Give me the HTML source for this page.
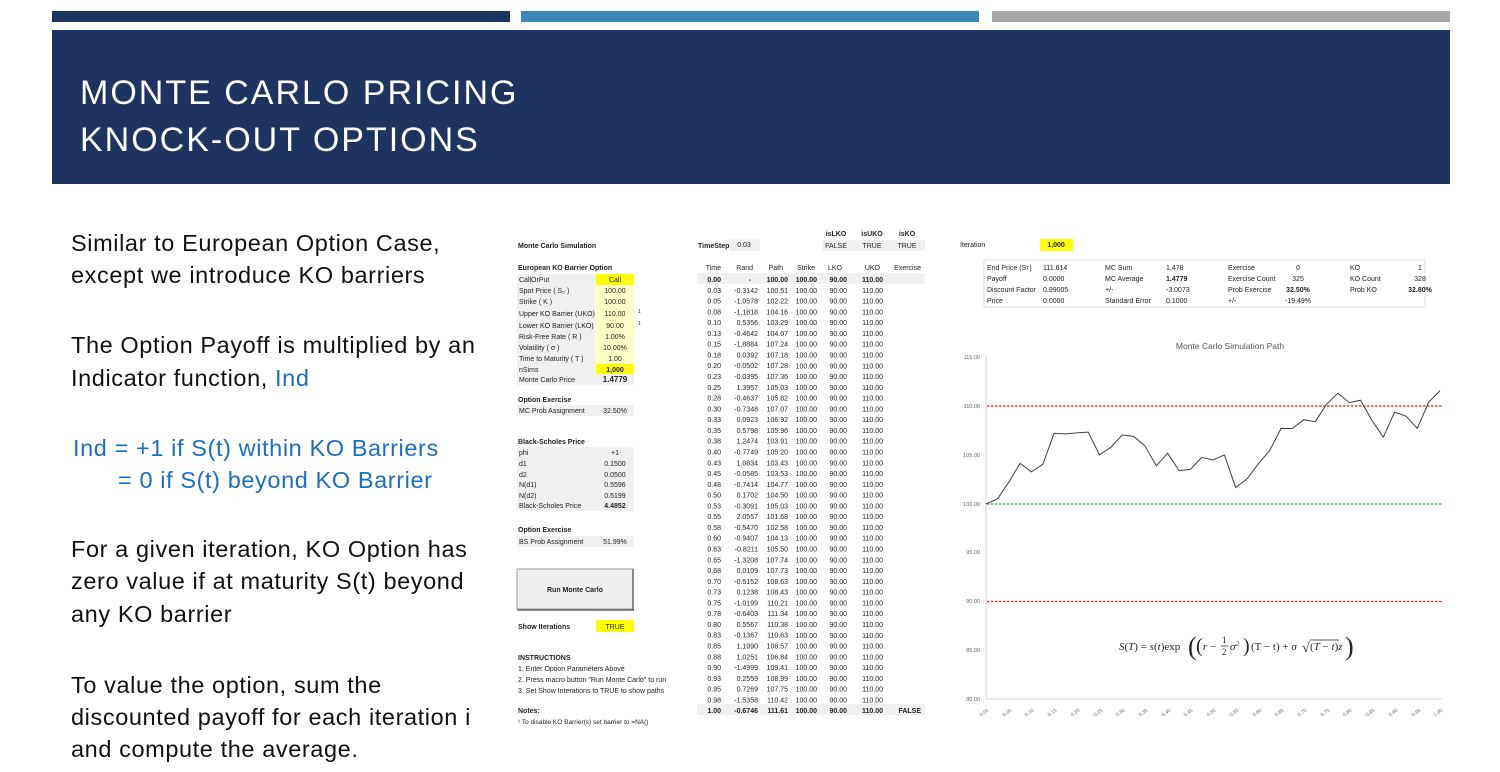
<!DOCTYPE html>
<html><head><meta charset="utf-8"><style>
html,body{margin:0;padding:0;background:#fff;width:1500px;height:772px;overflow:hidden}
svg{display:block;font-family:"Liberation Sans",sans-serif}
</style></head><body>
<svg width="1500" height="772" viewBox="0 0 1500 772" xmlns="http://www.w3.org/2000/svg">
<!-- top bars -->
<rect x="52" y="11" width="458" height="11" fill="#1d3461"/>
<rect x="521" y="11" width="458" height="11" fill="#3e88b8"/>
<rect x="992" y="11" width="458" height="11" fill="#a6a6a6"/>
<rect x="52" y="30" width="1398" height="154" fill="#1d3461"/>
<text x="80" y="104" fill="#fff" font-size="34" letter-spacing="2">MONTE CARLO PRICING</text>
<text x="80" y="151" fill="#fff" font-size="34" letter-spacing="2">KNOCK-OUT OPTIONS</text>

<!-- left text -->
<g font-size="23.5" fill="#111" letter-spacing="0.6">
<text x="71" y="251">Similar to European Option Case,</text>
<text x="71" y="283">except we introduce KO barriers</text>
<text x="71" y="353">The Option Payoff is multiplied by an</text>
<text x="71" y="386">Indicator function, <tspan fill="#1a6fc2">Ind</tspan></text>
<text x="73" y="456" fill="#1a6fc2">Ind = +1 if S(t) within KO Barriers</text>
<text x="118" y="488" fill="#1a6fc2">= 0   if S(t) beyond KO Barrier</text>
<text x="71" y="557">For a given iteration, KO Option has</text>
<text x="71" y="589">zero value if at maturity S(t) beyond</text>
<text x="71" y="622">any KO barrier</text>
<text x="71" y="693">To value the option, sum the</text>
<text x="71" y="725">discounted payoff for each iteration i</text>
<text x="71" y="757">and compute the average.</text>
</g>

<!-- left spreadsheet panel -->
<g font-size="7" fill="#222">
<text x="518" y="248" font-weight="bold">Monte Carlo Simulation</text>
<text x="518" y="270" font-weight="bold">European KO Barrier Option</text>
<rect x="517" y="274" width="78" height="111" fill="#f0f0f0"/>
<rect x="595" y="274" width="39" height="100" fill="#ffffc8"/>
<rect x="596" y="274" width="38" height="11" fill="#ffff00"/>
<rect x="596" y="364" width="38" height="11" fill="#ffff00"/>
<rect x="595" y="374" width="39" height="11" fill="#f0f0f0"/>
<text x="519" y="282">CallOrPut</text><text x="615" y="282" text-anchor="middle">Call</text>
<text x="519" y="293">Spot Price ( S₀ )</text><text x="615" y="293" text-anchor="middle">100.00</text>
<text x="519" y="304">Strike ( K )</text><text x="615" y="304" text-anchor="middle">100.00</text>
<text x="519" y="316">Upper KO Barrier (UKO)</text><text x="615" y="316" text-anchor="middle">110.00</text><text x="638" y="313" font-size="5">1</text>
<text x="519" y="328">Lower KO Barrier (LKO)</text><text x="615" y="328" text-anchor="middle">90.00</text><text x="638" y="325" font-size="5">1</text>
<text x="519" y="339">Risk-Free Rate ( R )</text><text x="615" y="339" text-anchor="middle">1.00%</text>
<text x="519" y="350">Volatility ( σ )</text><text x="615" y="350" text-anchor="middle">10.00%</text>
<text x="519" y="361">Time to Maturity ( T )</text><text x="615" y="361" text-anchor="middle">1.00</text>
<text x="519" y="372">nSims</text><text x="615" y="372" text-anchor="middle" font-weight="bold">1,000</text>
<text x="519" y="382">Monte Carlo Price</text><text x="615" y="382" text-anchor="middle" font-weight="bold" font-size="8">1.4779</text>
<text x="518" y="402" font-weight="bold">Option Exercise</text>
<rect x="517" y="405" width="117" height="11" fill="#f0f0f0"/>
<text x="519" y="413">MC Prob Assignment</text><text x="615" y="413" text-anchor="middle">32.50%</text>
<text x="518" y="444" font-weight="bold">Black-Scholes Price</text>
<rect x="517" y="447" width="117" height="64" fill="#f0f0f0"/>
<text x="519" y="455">phi</text><text x="615" y="455" text-anchor="middle">+1</text>
<text x="519" y="466">d1</text><text x="615" y="466" text-anchor="middle">0.1500</text>
<text x="519" y="477">d2</text><text x="615" y="477" text-anchor="middle">0.0500</text>
<text x="519" y="487">N(d1)</text><text x="615" y="487" text-anchor="middle">0.5596</text>
<text x="519" y="498">N(d2)</text><text x="615" y="498" text-anchor="middle">0.5199</text>
<text x="519" y="508">Black-Scholes Price</text><text x="615" y="508" text-anchor="middle" font-weight="bold">4.4852</text>
<text x="518" y="532" font-weight="bold">Option Exercise</text>
<rect x="517" y="536" width="117" height="11" fill="#f0f0f0"/>
<text x="519" y="544">BS Prob Assignment</text><text x="615" y="544" text-anchor="middle">51.99%</text>
<rect x="517" y="569" width="116" height="40" fill="#efefef" stroke="#9a9a9a" stroke-width="1"/>
<line x1="633" y1="569" x2="633" y2="610" stroke="#666" stroke-width="1.5"/>
<line x1="517" y1="610" x2="634" y2="610" stroke="#666" stroke-width="1.5"/>
<text x="575" y="592" text-anchor="middle" font-weight="bold">Run Monte Carlo</text>
<text x="518" y="629" font-weight="bold">Show Iterations</text>
<rect x="596" y="620" width="38" height="12" fill="#ffff00"/>
<text x="615" y="629" text-anchor="middle">TRUE</text>
<text x="518" y="660" font-weight="bold">INSTRUCTIONS</text>
<text x="518" y="671">1. Enter Option Parameters Above</text>
<text x="518" y="682">2. Press macro button "Run Monte Carlo" to run</text>
<text x="518" y="693">3. Set Show Interations to TRUE to show paths</text>
<text x="518" y="713" font-weight="bold">Notes:</text>
<text x="518" y="724" font-size="6.5">¹ To disable KO Barrier(s) set barrier to =NA()</text>
</g>

<!-- path table -->
<g font-size="7" fill="#222">
<text x="698" y="248" font-weight="bold">TimeStep</text>
<rect x="729" y="239" width="31" height="12" fill="#f0f0f0"/>
<text x="744" y="247" text-anchor="middle">0.03</text>
<g font-weight="bold" text-anchor="middle">
<text x="836" y="236">isLKO</text><text x="872" y="236">isUKO</text><text x="907" y="236">isKO</text>
</g>
<rect x="822" y="240" width="103" height="11" fill="#f0f0f0"/>
<g text-anchor="middle"><text x="836" y="248">FALSE</text><text x="872" y="248">TRUE</text><text x="907" y="248">TRUE</text></g>
<g text-anchor="end">
<text x="721" y="270">Time</text><text x="753" y="270">Rand</text><text x="783" y="270">Path</text><text x="815" y="270">Strike</text><text x="842" y="270">LKO</text><text x="880" y="270">UKO</text><text x="921" y="270">Exercise</text>
</g>
<rect x="697" y="273" width="228" height="11" fill="#f0f0f0"/>
<rect x="697" y="704" width="228" height="11" fill="#f0f0f0"/>
<g text-anchor="end">
<text x="721"><tspan x="721" y="282" font-weight="bold">0.00</tspan><tspan x="721" dy="10.78">0.03</tspan><tspan x="721" dy="10.78">0.05</tspan><tspan x="721" dy="10.78">0.08</tspan><tspan x="721" dy="10.78">0.10</tspan><tspan x="721" dy="10.78">0.13</tspan><tspan x="721" dy="10.78">0.15</tspan><tspan x="721" dy="10.78">0.18</tspan><tspan x="721" dy="10.78">0.20</tspan><tspan x="721" dy="10.78">0.23</tspan><tspan x="721" dy="10.78">0.25</tspan><tspan x="721" dy="10.78">0.28</tspan><tspan x="721" dy="10.78">0.30</tspan><tspan x="721" dy="10.78">0.33</tspan><tspan x="721" dy="10.78">0.35</tspan><tspan x="721" dy="10.78">0.38</tspan><tspan x="721" dy="10.78">0.40</tspan><tspan x="721" dy="10.78">0.43</tspan><tspan x="721" dy="10.78">0.45</tspan><tspan x="721" dy="10.78">0.48</tspan><tspan x="721" dy="10.78">0.50</tspan><tspan x="721" dy="10.78">0.53</tspan><tspan x="721" dy="10.78">0.55</tspan><tspan x="721" dy="10.78">0.58</tspan><tspan x="721" dy="10.78">0.60</tspan><tspan x="721" dy="10.78">0.63</tspan><tspan x="721" dy="10.78">0.65</tspan><tspan x="721" dy="10.78">0.68</tspan><tspan x="721" dy="10.78">0.70</tspan><tspan x="721" dy="10.78">0.73</tspan><tspan x="721" dy="10.78">0.75</tspan><tspan x="721" dy="10.78">0.78</tspan><tspan x="721" dy="10.78">0.80</tspan><tspan x="721" dy="10.78">0.83</tspan><tspan x="721" dy="10.78">0.85</tspan><tspan x="721" dy="10.78">0.88</tspan><tspan x="721" dy="10.78">0.90</tspan><tspan x="721" dy="10.78">0.93</tspan><tspan x="721" dy="10.78">0.95</tspan><tspan x="721" dy="10.78">0.98</tspan><tspan x="721" dy="10.78" font-weight="bold">1.00</tspan></text>
<text><tspan x="751" y="282" font-weight="bold">-</tspan><tspan x="758" dy="10.78">-0.3142</tspan><tspan x="758" dy="10.78">-1.0578</tspan><tspan x="758" dy="10.78">-1.1818</tspan><tspan x="758" dy="10.78">0.5356</tspan><tspan x="758" dy="10.78">-0.4642</tspan><tspan x="758" dy="10.78">-1.8884</tspan><tspan x="758" dy="10.78">0.0392</tspan><tspan x="758" dy="10.78">-0.0502</tspan><tspan x="758" dy="10.78">-0.0395</tspan><tspan x="758" dy="10.78">1.3957</tspan><tspan x="758" dy="10.78">-0.4637</tspan><tspan x="758" dy="10.78">-0.7348</tspan><tspan x="758" dy="10.78">0.0923</tspan><tspan x="758" dy="10.78">0.5798</tspan><tspan x="758" dy="10.78">1.2474</tspan><tspan x="758" dy="10.78">-0.7749</tspan><tspan x="758" dy="10.78">1.0834</tspan><tspan x="758" dy="10.78">-0.0585</tspan><tspan x="758" dy="10.78">-0.7414</tspan><tspan x="758" dy="10.78">0.1702</tspan><tspan x="758" dy="10.78">-0.3091</tspan><tspan x="758" dy="10.78">2.0557</tspan><tspan x="758" dy="10.78">-0.5470</tspan><tspan x="758" dy="10.78">-0.9407</tspan><tspan x="758" dy="10.78">-0.8211</tspan><tspan x="758" dy="10.78">-1.3208</tspan><tspan x="758" dy="10.78">0.0109</tspan><tspan x="758" dy="10.78">-0.5152</tspan><tspan x="758" dy="10.78">0.1238</tspan><tspan x="758" dy="10.78">-1.0199</tspan><tspan x="758" dy="10.78">-0.6403</tspan><tspan x="758" dy="10.78">0.5567</tspan><tspan x="758" dy="10.78">-0.1367</tspan><tspan x="758" dy="10.78">1.1990</tspan><tspan x="758" dy="10.78">1.0251</tspan><tspan x="758" dy="10.78">-1.4999</tspan><tspan x="758" dy="10.78">0.2559</tspan><tspan x="758" dy="10.78">0.7269</tspan><tspan x="758" dy="10.78">-1.5358</tspan><tspan x="758" dy="10.78" font-weight="bold">-0.6746</tspan></text>
<text><tspan x="788" y="282" font-weight="bold">100.00</tspan><tspan x="788" dy="10.78">100.51</tspan><tspan x="788" dy="10.78">102.22</tspan><tspan x="788" dy="10.78">104.16</tspan><tspan x="788" dy="10.78">103.29</tspan><tspan x="788" dy="10.78">104.07</tspan><tspan x="788" dy="10.78">107.24</tspan><tspan x="788" dy="10.78">107.18</tspan><tspan x="788" dy="10.78">107.28</tspan><tspan x="788" dy="10.78">107.36</tspan><tspan x="788" dy="10.78">105.03</tspan><tspan x="788" dy="10.78">105.82</tspan><tspan x="788" dy="10.78">107.07</tspan><tspan x="788" dy="10.78">106.92</tspan><tspan x="788" dy="10.78">105.96</tspan><tspan x="788" dy="10.78">103.91</tspan><tspan x="788" dy="10.78">105.20</tspan><tspan x="788" dy="10.78">103.43</tspan><tspan x="788" dy="10.78">103.53</tspan><tspan x="788" dy="10.78">104.77</tspan><tspan x="788" dy="10.78">104.50</tspan><tspan x="788" dy="10.78">105.03</tspan><tspan x="788" dy="10.78">101.68</tspan><tspan x="788" dy="10.78">102.58</tspan><tspan x="788" dy="10.78">104.13</tspan><tspan x="788" dy="10.78">105.50</tspan><tspan x="788" dy="10.78">107.74</tspan><tspan x="788" dy="10.78">107.73</tspan><tspan x="788" dy="10.78">108.63</tspan><tspan x="788" dy="10.78">108.43</tspan><tspan x="788" dy="10.78">110.21</tspan><tspan x="788" dy="10.78">111.34</tspan><tspan x="788" dy="10.78">110.38</tspan><tspan x="788" dy="10.78">110.63</tspan><tspan x="788" dy="10.78">108.57</tspan><tspan x="788" dy="10.78">106.84</tspan><tspan x="788" dy="10.78">109.41</tspan><tspan x="788" dy="10.78">108.99</tspan><tspan x="788" dy="10.78">107.75</tspan><tspan x="788" dy="10.78">110.42</tspan><tspan x="788" dy="10.78" font-weight="bold">111.61</tspan></text>
</g>
<g text-anchor="end">
<text x="817" y="282" font-weight="bold">100.00</text><text x="847" y="282" font-weight="bold">90.00</text><text x="883" y="282" font-weight="bold">110.00</text>
<text x="817" y="713" font-weight="bold">100.00</text><text x="847" y="713" font-weight="bold">90.00</text><text x="883" y="713" font-weight="bold">110.00</text><text x="921" y="713" font-weight="bold">FALSE</text>
<text><tspan x="817" y="292.8">100.00</tspan><tspan x="817" dy="10.78">100.00</tspan><tspan x="817" dy="10.78">100.00</tspan><tspan x="817" dy="10.78">100.00</tspan><tspan x="817" dy="10.78">100.00</tspan><tspan x="817" dy="10.78">100.00</tspan><tspan x="817" dy="10.78">100.00</tspan><tspan x="817" dy="10.78">100.00</tspan><tspan x="817" dy="10.78">100.00</tspan><tspan x="817" dy="10.78">100.00</tspan><tspan x="817" dy="10.78">100.00</tspan><tspan x="817" dy="10.78">100.00</tspan><tspan x="817" dy="10.78">100.00</tspan><tspan x="817" dy="10.78">100.00</tspan><tspan x="817" dy="10.78">100.00</tspan><tspan x="817" dy="10.78">100.00</tspan><tspan x="817" dy="10.78">100.00</tspan><tspan x="817" dy="10.78">100.00</tspan><tspan x="817" dy="10.78">100.00</tspan><tspan x="817" dy="10.78">100.00</tspan><tspan x="817" dy="10.78">100.00</tspan><tspan x="817" dy="10.78">100.00</tspan><tspan x="817" dy="10.78">100.00</tspan><tspan x="817" dy="10.78">100.00</tspan><tspan x="817" dy="10.78">100.00</tspan><tspan x="817" dy="10.78">100.00</tspan><tspan x="817" dy="10.78">100.00</tspan><tspan x="817" dy="10.78">100.00</tspan><tspan x="817" dy="10.78">100.00</tspan><tspan x="817" dy="10.78">100.00</tspan><tspan x="817" dy="10.78">100.00</tspan><tspan x="817" dy="10.78">100.00</tspan><tspan x="817" dy="10.78">100.00</tspan><tspan x="817" dy="10.78">100.00</tspan><tspan x="817" dy="10.78">100.00</tspan><tspan x="817" dy="10.78">100.00</tspan><tspan x="817" dy="10.78">100.00</tspan><tspan x="817" dy="10.78">100.00</tspan><tspan x="817" dy="10.78">100.00</tspan></text>
<text><tspan x="847" y="292.8">90.00</tspan><tspan x="847" dy="10.78">90.00</tspan><tspan x="847" dy="10.78">90.00</tspan><tspan x="847" dy="10.78">90.00</tspan><tspan x="847" dy="10.78">90.00</tspan><tspan x="847" dy="10.78">90.00</tspan><tspan x="847" dy="10.78">90.00</tspan><tspan x="847" dy="10.78">90.00</tspan><tspan x="847" dy="10.78">90.00</tspan><tspan x="847" dy="10.78">90.00</tspan><tspan x="847" dy="10.78">90.00</tspan><tspan x="847" dy="10.78">90.00</tspan><tspan x="847" dy="10.78">90.00</tspan><tspan x="847" dy="10.78">90.00</tspan><tspan x="847" dy="10.78">90.00</tspan><tspan x="847" dy="10.78">90.00</tspan><tspan x="847" dy="10.78">90.00</tspan><tspan x="847" dy="10.78">90.00</tspan><tspan x="847" dy="10.78">90.00</tspan><tspan x="847" dy="10.78">90.00</tspan><tspan x="847" dy="10.78">90.00</tspan><tspan x="847" dy="10.78">90.00</tspan><tspan x="847" dy="10.78">90.00</tspan><tspan x="847" dy="10.78">90.00</tspan><tspan x="847" dy="10.78">90.00</tspan><tspan x="847" dy="10.78">90.00</tspan><tspan x="847" dy="10.78">90.00</tspan><tspan x="847" dy="10.78">90.00</tspan><tspan x="847" dy="10.78">90.00</tspan><tspan x="847" dy="10.78">90.00</tspan><tspan x="847" dy="10.78">90.00</tspan><tspan x="847" dy="10.78">90.00</tspan><tspan x="847" dy="10.78">90.00</tspan><tspan x="847" dy="10.78">90.00</tspan><tspan x="847" dy="10.78">90.00</tspan><tspan x="847" dy="10.78">90.00</tspan><tspan x="847" dy="10.78">90.00</tspan><tspan x="847" dy="10.78">90.00</tspan><tspan x="847" dy="10.78">90.00</tspan></text>
<text><tspan x="883" y="292.8">110.00</tspan><tspan x="883" dy="10.78">110.00</tspan><tspan x="883" dy="10.78">110.00</tspan><tspan x="883" dy="10.78">110.00</tspan><tspan x="883" dy="10.78">110.00</tspan><tspan x="883" dy="10.78">110.00</tspan><tspan x="883" dy="10.78">110.00</tspan><tspan x="883" dy="10.78">110.00</tspan><tspan x="883" dy="10.78">110.00</tspan><tspan x="883" dy="10.78">110.00</tspan><tspan x="883" dy="10.78">110.00</tspan><tspan x="883" dy="10.78">110.00</tspan><tspan x="883" dy="10.78">110.00</tspan><tspan x="883" dy="10.78">110.00</tspan><tspan x="883" dy="10.78">110.00</tspan><tspan x="883" dy="10.78">110.00</tspan><tspan x="883" dy="10.78">110.00</tspan><tspan x="883" dy="10.78">110.00</tspan><tspan x="883" dy="10.78">110.00</tspan><tspan x="883" dy="10.78">110.00</tspan><tspan x="883" dy="10.78">110.00</tspan><tspan x="883" dy="10.78">110.00</tspan><tspan x="883" dy="10.78">110.00</tspan><tspan x="883" dy="10.78">110.00</tspan><tspan x="883" dy="10.78">110.00</tspan><tspan x="883" dy="10.78">110.00</tspan><tspan x="883" dy="10.78">110.00</tspan><tspan x="883" dy="10.78">110.00</tspan><tspan x="883" dy="10.78">110.00</tspan><tspan x="883" dy="10.78">110.00</tspan><tspan x="883" dy="10.78">110.00</tspan><tspan x="883" dy="10.78">110.00</tspan><tspan x="883" dy="10.78">110.00</tspan><tspan x="883" dy="10.78">110.00</tspan><tspan x="883" dy="10.78">110.00</tspan><tspan x="883" dy="10.78">110.00</tspan><tspan x="883" dy="10.78">110.00</tspan><tspan x="883" dy="10.78">110.00</tspan><tspan x="883" dy="10.78">110.00</tspan></text>
</g>
</g>

<!-- right summary -->
<g font-size="7" fill="#222">
<text x="960" y="247">Iteration</text>
<rect x="1040" y="239" width="33" height="12" fill="#ffff00"/>
<text x="1056" y="247" text-anchor="middle" font-weight="bold">1,000</text>
<rect x="984" y="260" width="441" height="47" fill="none" stroke="#ddd" stroke-width="1"/>
<text x="987" y="270">End Price (S<tspan font-size="5">T</tspan>)</text><text x="1043" y="270">111.614</text>
<text x="987" y="281">Payoff</text><text x="1043" y="281">0.0000</text>
<text x="987" y="292">Discount Factor</text><text x="1043" y="292">0.99005</text>
<text x="987" y="303">Price</text><text x="1043" y="303">0.0000</text>
<text x="1105" y="270">MC Sum</text><text x="1166" y="270">1,478</text>
<text x="1105" y="281">MC Average</text><text x="1166" y="281" font-weight="bold">1.4779</text>
<text x="1105" y="292">+/-</text><text x="1166" y="292">-3.0073</text>
<text x="1105" y="303">Standard Error</text><text x="1166" y="303">0.1000</text>
<text x="1228" y="270">Exercise</text><text x="1298" y="270" text-anchor="middle">0</text>
<text x="1228" y="281">Exercise Count</text><text x="1298" y="281" text-anchor="middle">325</text>
<text x="1228" y="292">Prob Exercise</text><text x="1298" y="292" text-anchor="middle" font-weight="bold">32.50%</text>
<text x="1228" y="303">+/-</text><text x="1298" y="303" text-anchor="middle">-19.49%</text>
<text x="1350" y="270">KO</text><text x="1420" y="270" text-anchor="middle">1</text>
<text x="1350" y="281">KO Count</text><text x="1420" y="281" text-anchor="middle">328</text>
<text x="1350" y="292">Prob KO</text><text x="1420" y="292" text-anchor="middle" font-weight="bold">32.80%</text>
</g>

<!-- chart -->
<text x="1230" y="349" font-size="8.5" fill="#555" text-anchor="middle">Monte Carlo Simulation Path</text>
<g font-size="5.5" fill="#666" text-anchor="end">
<text x="980" y="359">115.00</text><text x="980" y="408">110.00</text><text x="980" y="457">105.00</text><text x="980" y="506">100.00</text><text x="980" y="554">95.00</text><text x="980" y="603">90.00</text><text x="980" y="652">85.00</text><text x="980" y="701">80.00</text>
</g>
<line x1="986" y1="356" x2="986" y2="699" stroke="#d9d9d9"/>
<line x1="986" y1="699" x2="1442" y2="699" stroke="#d9d9d9"/>
<line x1="987" y1="406" x2="1442" y2="406" stroke="#e02020" stroke-width="1.2" stroke-dasharray="2.5,1.5"/>
<line x1="987" y1="504" x2="1442" y2="504" stroke="#20b040" stroke-width="1.2" stroke-dasharray="2.5,1.5"/>
<line x1="987" y1="601.5" x2="1442" y2="601.5" stroke="#e02020" stroke-width="1.2" stroke-dasharray="2.5,1.5"/>
<polyline fill="none" stroke="#404040" stroke-width="1" points="986.0,504.0 997.4,499.0 1008.7,482.3 1020.1,463.4 1031.4,471.9 1042.8,464.3 1054.1,433.3 1065.5,433.9 1076.8,432.9 1088.2,432.1 1099.5,454.9 1110.9,447.2 1122.2,435.0 1133.6,436.4 1144.9,445.8 1156.3,465.8 1167.6,453.2 1179.0,470.5 1190.3,469.5 1201.7,457.4 1213.0,460.0 1224.4,454.9 1235.7,487.6 1247.1,478.8 1258.4,463.7 1269.8,450.3 1281.1,428.4 1292.5,428.5 1303.8,419.7 1315.2,421.7 1326.5,404.3 1337.9,393.2 1349.2,402.6 1360.6,400.2 1371.9,420.3 1383.3,437.2 1394.6,412.1 1406.0,416.2 1417.3,428.3 1428.7,402.2 1440.0,390.6"/>
<g font-size="5" fill="#666">
<text transform="translate(989,711) rotate(-35)" text-anchor="end">0.00</text>
<text transform="translate(1012,711) rotate(-35)" text-anchor="end">0.05</text>
<text transform="translate(1034,711) rotate(-35)" text-anchor="end">0.10</text>
<text transform="translate(1057,711) rotate(-35)" text-anchor="end">0.15</text>
<text transform="translate(1080,711) rotate(-35)" text-anchor="end">0.20</text>
<text transform="translate(1103,711) rotate(-35)" text-anchor="end">0.25</text>
<text transform="translate(1125,711) rotate(-35)" text-anchor="end">0.30</text>
<text transform="translate(1148,711) rotate(-35)" text-anchor="end">0.35</text>
<text transform="translate(1171,711) rotate(-35)" text-anchor="end">0.40</text>
<text transform="translate(1193,711) rotate(-35)" text-anchor="end">0.45</text>
<text transform="translate(1216,711) rotate(-35)" text-anchor="end">0.50</text>
<text transform="translate(1239,711) rotate(-35)" text-anchor="end">0.55</text>
<text transform="translate(1262,711) rotate(-35)" text-anchor="end">0.60</text>
<text transform="translate(1284,711) rotate(-35)" text-anchor="end">0.65</text>
<text transform="translate(1307,711) rotate(-35)" text-anchor="end">0.70</text>
<text transform="translate(1330,711) rotate(-35)" text-anchor="end">0.75</text>
<text transform="translate(1352,711) rotate(-35)" text-anchor="end">0.80</text>
<text transform="translate(1375,711) rotate(-35)" text-anchor="end">0.85</text>
<text transform="translate(1398,711) rotate(-35)" text-anchor="end">0.90</text>
<text transform="translate(1421,711) rotate(-35)" text-anchor="end">0.95</text>
<text transform="translate(1443,711) rotate(-35)" text-anchor="end">1.00</text>
</g>
<!-- formula -->
<g font-family="Liberation Serif, serif" fill="#222">
<text x="1119" y="650" font-size="11"><tspan font-style="italic">S</tspan>(<tspan font-style="italic">T</tspan>) = <tspan font-style="italic">s</tspan>(<tspan font-style="italic">t</tspan>)exp</text>
<text x="1188" y="655" font-size="26">(</text>
<text x="1196" y="652" font-size="20">(</text>
<text x="1203" y="650" font-size="11"><tspan font-style="italic">r</tspan> −</text>
<text x="1222" y="643" font-size="9">1</text>
<line x1="1221" y1="646" x2="1228" y2="646" stroke="#222" stroke-width="0.7"/>
<text x="1222" y="655" font-size="9">2</text>
<text x="1230" y="650" font-size="11" font-style="italic">σ<tspan font-size="7" dy="-4">2</tspan></text>
<text x="1243" y="652" font-size="20">)</text>
<text x="1251" y="650" font-size="11">(T − t) + <tspan font-style="italic">σ</tspan></text>
<text x="1302" y="652" font-size="14">√</text>
<line x1="1310" y1="640" x2="1339" y2="640" stroke="#222" stroke-width="0.7"/>
<text x="1310" y="650" font-size="11">(<tspan font-style="italic">T</tspan> − <tspan font-style="italic">t</tspan>)<tspan font-style="italic">z</tspan></text>
<text x="1345" y="655" font-size="26">)</text>
</g>
</svg>
</body></html>
